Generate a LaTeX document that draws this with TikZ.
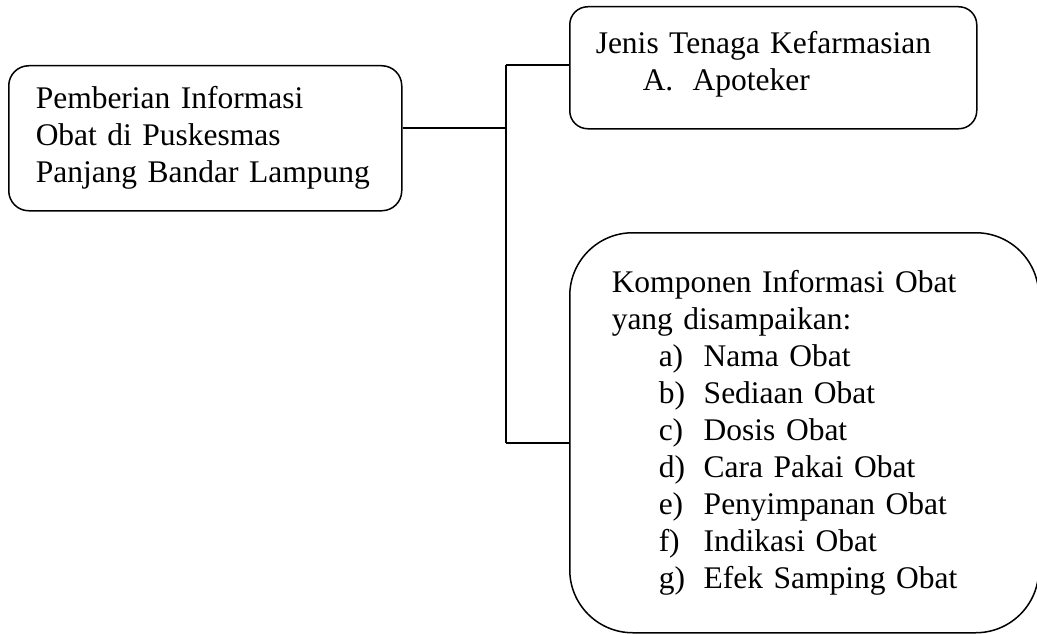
\documentclass[tikz,border=0pt]{standalone}
\usepackage{fontspec}
\setmainfont{Liberation Serif}
\usepackage{tikz}
\usetikzlibrary{positioning}
\newcommand{\butir}[2]{\hspace*{47pt}\makebox[45pt][l]{#1}#2}

\begin{document}
\begin{tikzpicture}[x=1pt,y=-1pt,
                    every node/.style={font=\fontsize{31.5}{37}\selectfont},
                    kotak/.style={draw,line width=1.5pt,anchor=north west,
                                  align=left,inner ysep=0pt},
                    garis/.style={line width=1.5pt}]
      \useasboundingbox (0,0) rectangle (1037,634);
      \node[kotak, rounded corners=20pt, minimum width=393pt,
            minimum height=145pt, inner xsep=27pt, text width=339pt]
        (info) at (8,65)
        {Pemberian Informasi\\
         Obat di Puskesmas\\
         Panjang Bandar Lampung};
      \node[kotak, rounded corners=18pt, minimum width=407pt,
            minimum height=122pt, inner xsep=26pt, text width=355pt]
        (jenis) at (569,6)
        {Jenis Tenaga Kefarmasian\\
         \hspace*{47pt}\makebox[50pt][l]{A.}Apoteker\vspace*{6pt}};
      \node[kotak, rounded corners=63pt, minimum width=469pt,
            minimum height=400pt, inner xsep=42pt, text width=385pt]
        (komponen) at (569,232)
        {Komponen Informasi Obat\\
         yang disampaikan:\\
         \butir{a)}{Nama Obat}\\
         \butir{b)}{Sediaan Obat}\\
         \butir{c)}{Dosis Obat}\\
         \butir{d)}{Cara Pakai Obat}\\
         \butir{e)}{Penyimpanan Obat}\\
         \butir{f)}{Indikasi Obat}\\
         \butir{g)}{Efek Samping Obat}};
      \coordinate (cabang) at (506,128);
      \coordinate (atas) at (506,65);
      \coordinate (bawah) at (506,443);
      \draw[garis](info.east |- cabang)--(cabang);
      \draw[garis](atas)--(bawah);
      \draw[garis](atas)--(atas -| jenis.west);
      \draw[garis](bawah)--(bawah -| komponen.west);
    \end{tikzpicture}
\end{document}
